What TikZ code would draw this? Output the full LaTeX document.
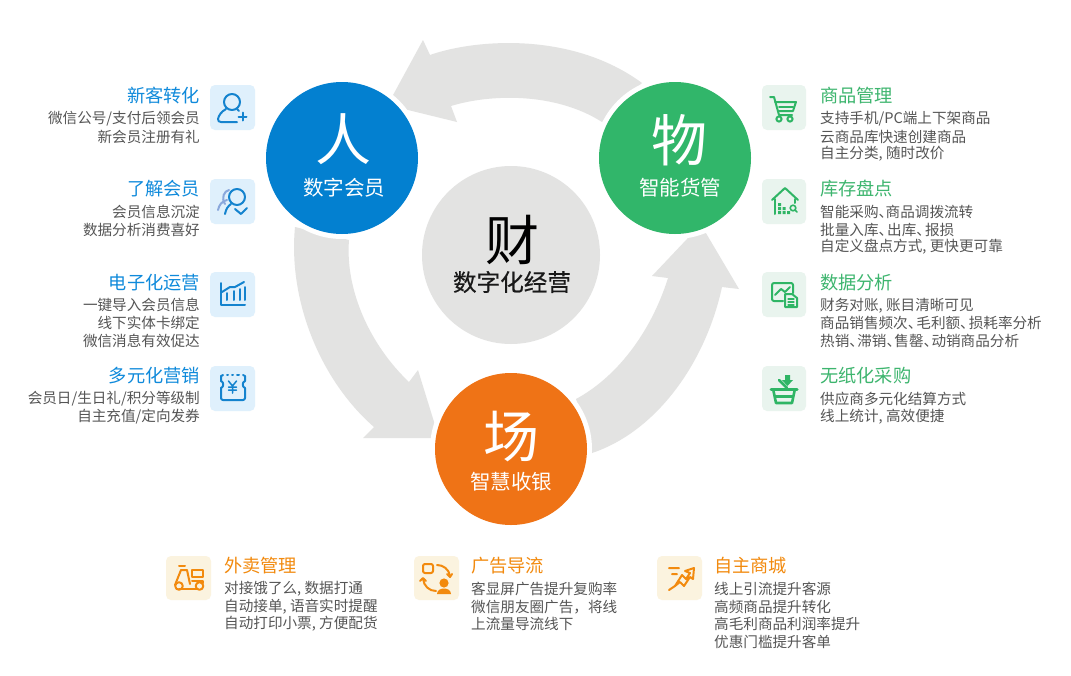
\documentclass[tikz,border=0pt]{standalone}
\usepackage{fontspec}
\setmainfont{Noto Sans CJK SC}
\newfontfamily\heavycjk[FakeBold=0.45]{Noto Sans CJK SC}
\newcommand{\cm}{,\kern3.4pt}
\newcommand{\dn}[1][6]{、\kern-#1pt}
\definecolor{ringgrey}{HTML}{E3E3E2}
\definecolor{bodygrey}{HTML}{555555}
\definecolor{cblue}{HTML}{0380D0}
\definecolor{cgreen}{HTML}{31B66A}
\definecolor{corange}{HTML}{EF7316}
\definecolor{tblue}{HTML}{0F8ADB}
\definecolor{tgreen}{HTML}{3DB56E}
\definecolor{torange}{HTML}{F28A0E}
\definecolor{boxblue}{HTML}{DFF0FC}
\definecolor{boxgreen}{HTML}{E9F4EE}
\definecolor{boxorange}{HTML}{FBF3DF}
\definecolor{iconblue}{HTML}{1483CE}
\definecolor{iconback}{HTML}{8AA8DC}
\definecolor{icongreen}{HTML}{2FB565}
\definecolor{iconorange}{HTML}{F28A0E}
\tikzset{
  ringarrow/.style={fill=ringgrey,draw=none},
  halo/.style={circle,fill=white,minimum size=162pt,inner sep=0pt},
  hub/.style={circle,minimum size=152pt,inner sep=0pt},
  bigchar/.style={text=white,font=\fontsize{56}{60}\selectfont,inner sep=0pt},
  subcap/.style={text=white,font=\fontsize{20.5}{24}\selectfont,inner sep=0pt},
  headL/.style={anchor=east,text=tblue,font=\fontsize{18.2}{22}\selectfont,inner sep=0pt},
  headR/.style={anchor=west,text=tgreen,font=\fontsize{18.2}{22}\selectfont,inner sep=0pt},
  headB/.style={anchor=west,text=torange,font=\fontsize{18.2}{22}\selectfont,inner sep=0pt},
  bodyL/.style={anchor=east,text=bodygrey,font=\fontsize{14.6}{18}\selectfont,inner sep=0pt},
  bodyR/.style={anchor=west,text=bodygrey,font=\fontsize{14.6}{18}\selectfont,inner sep=0pt},
  tile/.style={rounded corners=5pt,draw=none,minimum size=0pt},
  glyph/.style={line width=2pt,line cap=round,line join=round,fill=none},
}
\begin{document}
\begin{tikzpicture}[x=1pt,y=-1pt]
\useasboundingbox (0,0) rectangle (1071,675);
\fill[white] (0,0) rectangle (1071,675);

% circular arrows
\fill[ringarrow] (642,83) .. controls (570,30) and (472,40) .. (430,55) -- (423,40) -- (387.6,105) -- (457,122) -- (451,106)
  .. controls (490,94) and (555,92) .. (602,122) -- cycle;
\fill[ringarrow] (295,227) .. controls (288,300) and (320,380) .. (374,427) -- (363,438) -- (439,438) -- (418,370) -- (409,382)
  .. controls (370,345) and (345,290) .. (349,240) -- cycle;
\fill[ringarrow] (592,453) .. controls (655,432) and (705,365) .. (722,287) -- (739,289) -- (700.8,224.4) -- (652,276) -- (668,278)
  .. controls (650,335) and (615,378) .. (576,399) -- cycle;

% hubs
\node[halo] (haloP) at (342,158) {};
\node[halo] (haloW) at (675,158) {};
\node[halo] (haloC) at (511,449) {};
\node[hub,fill=cblue] (hubP) at (342,158) {};
\node[hub,fill=cgreen] (hubW) at (675,158) {};
\node[hub,fill=corange] (hubC) at (511,449) {};
\node[circle,fill=ringgrey,minimum size=178pt,inner sep=0pt] (hubF) at (511,255) {};

\node[bigchar] (cP) at (343,139) {人};
\node[subcap] (sP) at (344,188) {数字会员};
\node[bigchar] (cW) at (679,140) {物};
\node[subcap] (sW) at (680,188) {智能货管};
\node[bigchar] (cC) at (511,437) {场};
\node[subcap] (sC) at (511,482) {智慧收银};
\node[text=black,font=\fontsize{54}{58}\selectfont,inner sep=0pt] (cF) at (512,240) {财};
\node[text=black!90,font=\fontsize{23.6}{27}\heavycjk,inner sep=0pt] (sF) at (512,282) {数字化经营};

% left column
\node[headL] (l1) at (200,96) {新客转化};
\node[bodyL] (l1a) at (200,119) {微信公号/支付后领会员};
\node[bodyL] (l1b) at (200,137) {新会员注册有礼};
\node[headL] (l2) at (200,189) {了解会员};
\node[bodyL] (l2a) at (200,212) {会员信息沉淀};
\node[bodyL] (l2b) at (200,230) {数据分析消费喜好};
\node[headL] (l3) at (200,283) {电子化运营};
\node[bodyL] (l3a) at (200,305) {一键导入会员信息};
\node[bodyL] (l3b) at (200,323) {线下实体卡绑定};
\node[bodyL] (l3c) at (200,341) {微信消息有效促达};
\node[headL] (l4) at (200,376) {多元化营销};
\node[bodyL] (l4a) at (200,399) {会员日/生日礼/积分等级制};
\node[bodyL] (l4b) at (200,417) {自主充值/定向发券};

% right column
\node[headR] (r1) at (820,96) {商品管理};
\node[bodyR] (r1a) at (820,119) {支持手机/PC端上下架商品};
\node[bodyR] (r1b) at (820,137) {云商品库快速创建商品};
\node[bodyR] (r1c) at (820,154) {自主分类\cm 随时改价};
\node[headR] (r2) at (820,189) {库存盘点};
\node[bodyR] (r2a) at (820,212) {智能采购\dn[7.5]商品调拨流转};
\node[bodyR] (r2b) at (820,230) {批量入库\dn 出库\dn 报损};
\node[bodyR] (r2c) at (820,247) {自定义盘点方式\cm 更快更可靠};
\node[headR] (r3) at (820,283) {数据分析};
\node[bodyR] (r3a) at (820,306) {财务对账\cm 账目清晰可见};
\node[bodyR] (r3b) at (820,323) {商品销售频次\dn 毛利额\dn 损耗率分析};
\node[bodyR] (r3c) at (820,341) {热销\dn[6.7]滞销\dn[6.7]售罄\dn[6.7]动销商品分析};
\node[headR] (r4) at (820,376) {无纸化采购};
\node[bodyR] (r4a) at (820,399) {供应商多元化结算方式};
\node[bodyR] (r4b) at (820,417) {线上统计\cm 高效便捷};

% bottom row
\node[headB] (b1) at (224,566) {外卖管理};
\node[bodyR] (b1a) at (224,589) {对接饿了么\cm 数据打通};
\node[bodyR] (b1b) at (224,607) {自动接单\cm 语音实时提醒};
\node[bodyR] (b1c) at (224,624) {自动打印小票\cm 方便配货};
\node[headB] (b2) at (471,566) {广告导流};
\node[bodyR] (b2a) at (471,589) {客显屏广告提升复购率};
\node[bodyR] (b2b) at (471,607) {微信朋友圈广告，将线};
\node[bodyR] (b2c) at (471,624) {上流量导流线下};
\node[headB] (b3) at (714,566) {自主商城};
\node[bodyR] (b3a) at (714,589) {线上引流提升客源};
\node[bodyR] (b3b) at (714,607) {高频商品提升转化};
\node[bodyR] (b3c) at (714,624) {高毛利商品利润率提升};
\node[bodyR] (b3d) at (714,642) {优惠门槛提升客单};

% icon tiles
\foreach \yy in {85,179,272,366} {
  \fill[boxblue,tile] (210,\yy) rectangle ++(45,45);
  \fill[boxgreen,tile] (762,\yy) rectangle ++(44,45);
}
\foreach \xx in {166,414,657} {
  \fill[boxorange,tile] (\xx,556) rectangle ++(45,44);
}

% person with a plus
\begin{scope}[shift={(210,85)},glyph,draw=iconblue]
  \draw (22,17) circle (8);
  \draw (16,24) .. controls (11,27) and (9,30) .. (8,34) .. controls (8,36) and (9,37) .. (11,37) -- (27,37);
  \draw (27,24) -- (29,26);
  \draw (28.5,31.5) -- (36.5,31.5) (32.5,27.5) -- (32.5,35.5);
\end{scope}
% people with a check mark
\begin{scope}[shift={(210,179)},glyph]
  \draw[iconback] (19,11) .. controls (14,12) and (11,19) .. (15,25);
  \draw[iconback] (8,31) .. controls (9,26) and (12,22) .. (17,21);
  \draw[iconblue] (27,18) circle (8);
  \draw[iconblue] (15,35) .. controls (16,30) and (18,27) .. (21,25);
  \draw[iconblue] (25,30) -- (31,35) -- (37,29);
\end{scope}
% bar chart with trend line
\begin{scope}[shift={(210,272)},glyph,draw=iconblue]
  \draw (11,11) -- (11,33) -- (35,33);
  \draw (17,21) -- (17,28) (24,19) -- (24,28) (30,17) -- (30,28) (35,15) -- (35,28);
  \draw (12,20) -- (20,15) -- (25,15) -- (34,10);
\end{scope}
% voucher with yen sign
\begin{scope}[shift={(210,366)},glyph,draw=iconblue]
  \draw (13,9) -- (11,10) -- (11,15) .. controls (14,16) and (14,21) .. (11,22) -- (11,32) .. controls (11,33) and (12,34) .. (13,34)
        -- (33,34) .. controls (34,34) and (35,33) .. (35,32) -- (35,22) .. controls (32,21) and (32,16) .. (35,15) -- (35,10) -- (33,9);
  \draw (17,9) -- (18,9) (22,9) -- (23,9) (27,9) -- (29,9);
  \draw[line width=1.5pt] (18.5,15) -- (22.5,20) -- (26.5,15) (22.5,20) -- (22.5,27) (18.5,21) -- (26.5,21) (18.5,24) -- (26.5,24);
\end{scope}
% shopping cart
\begin{scope}[shift={(762,85)},glyph,draw=icongreen]
  \draw (8,12) -- (12,12) -- (17,30) -- (30,30);
  \draw (13,17) -- (34,17) -- (31,26) -- (16,26);
  \draw (17,21.5) -- (31,21.5);
  \draw (17,34) circle (2.6) (28,34) circle (2.6);
\end{scope}
% house with stock dots and magnifier
\begin{scope}[shift={(762,179)},glyph,draw=icongreen]
  \draw (10,21) -- (23,9) -- (36,21);
  \draw (13,20) -- (13,35);
  \draw (33,20) -- (33,24);
  \fill[icongreen] (16,24) rectangle ++(3,3) (16,28) rectangle ++(3,3) (16,32) rectangle ++(3,3)
    (20.5,28) rectangle ++(3,3) (20.5,32) rectangle ++(3,3) (25,32) rectangle ++(3,3);
  \draw[line width=1.6pt] (31,29) circle (2.8) (33,31) -- (35,33);
\end{scope}
% report with chart line
\begin{scope}[shift={(762,272)},glyph,draw=icongreen]
  \draw (21,29) -- (12,29) .. controls (11,29) and (10,28) .. (10,27) -- (10,13) .. controls (10,12) and (11,11) .. (12,11) -- (29,11) .. controls (30,11) and (31,12) .. (31,13) -- (31,21);
  \draw (13,23) -- (19,17) -- (23,20) -- (28,15);
  \draw[fill=boxgreen] (23,22) -- (30,22) -- (35,26) -- (35,35) -- (23,35) -- cycle;
  \draw[line width=1.2pt] (26,27) -- (32,27) (26,30) -- (32,30) (26,33) -- (32,33);
\end{scope}
% basket with down arrow
\begin{scope}[shift={(762,366)},glyph,draw=icongreen]
  \draw[line width=2.6pt] (17,14) -- (25,22);
  \fill[icongreen] (23,9) rectangle (28,14) (20,14) -- (31,14) -- (25.5,20) -- cycle;
  \draw[line width=3pt] (9,23) -- (35,23);
  \draw[line width=2.6pt] (11.5,25) -- (14,37) -- (30,37) -- (32.5,25);
  \draw[line width=2.4pt] (13,30.5) -- (31,30.5);
\end{scope}
% delivery scooter
\begin{scope}[shift={(166,556)},glyph,draw=iconorange]
  \draw (13,10) -- (19,10);
  \draw (15,14) -- (9,29);
  \draw (15,14) -- (21,14) -- (24,28);
  \draw (13,33) -- (31,33);
  \draw (13,30) circle (3.8) (33.5,30) circle (3.8);
  \draw (26,14) rectangle (37,21);
  \draw (26,25) -- (37,25) -- (37,27);
\end{scope}
% customer with circulating arrows
\begin{scope}[shift={(414,556)},glyph,draw=iconorange]
  \draw[rounded corners=2pt] (9,8) rectangle (19,17);
  \draw (23,9) .. controls (29,9) and (35,13) .. (36,20);
  \draw (33,18) -- (36,21) -- (38,18);
  \draw (9,23) .. controls (10,30) and (15,35) .. (22,35);
  \draw (6,25) -- (9,22) -- (12,25);
  \fill[iconorange] (30,27) circle (4.6);
  \fill[iconorange] (23,38) .. controls (23,34) and (27,32.5) .. (30,32.5) .. controls (33,32.5) and (37,34) .. (37,38) -- cycle;
\end{scope}
% rising arrow with speed lines
\begin{scope}[shift={(657,556)},glyph,draw=iconorange]
  \draw (12,12) -- (22,12) (15,18) -- (20,18) (12,34) -- (18,30);
  \draw (18,30) -- (25,19) -- (29,23) -- (33,17) -- (28,15) -- (37,12) -- (36,23) -- (33,21) -- (27,30) -- (23,26) -- (18,30);
\end{scope}
\end{tikzpicture}
\end{document}
